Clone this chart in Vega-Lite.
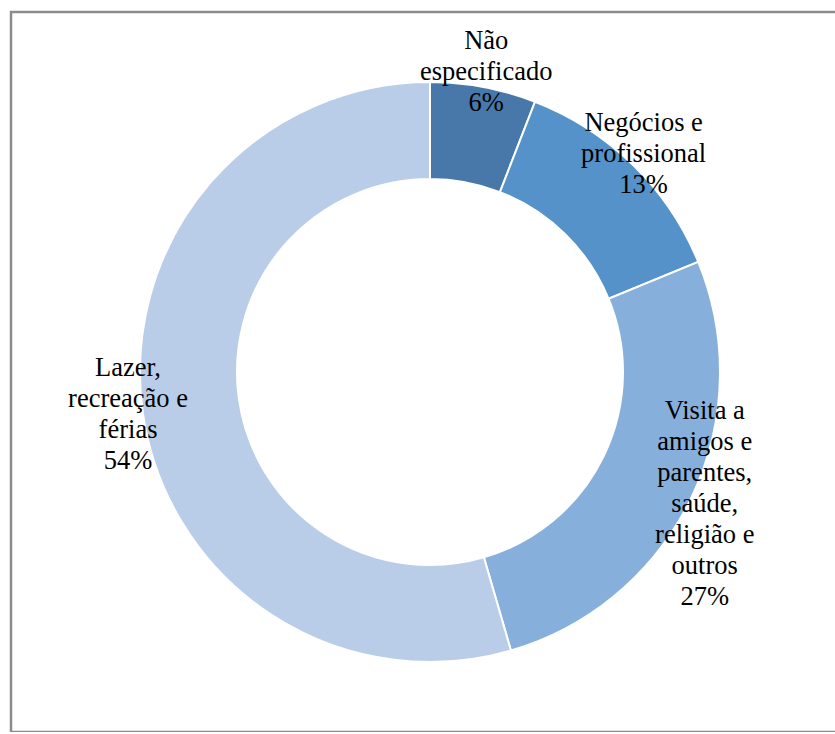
{
  "$schema": "https://vega.github.io/schema/vega-lite/v6.json",
  "autosize": {"type": "none"},
  "padding": {"left": 11, "top": 12, "right": 0, "bottom": 0},
  "width": 838,
  "height": 720,
  "background": "white",
  "config": {"view": {"stroke": null}},
  "data": {
    "values": [
      {"cat": "Não especificado", "ord": 1, "value": 5.9, "label": "Não\nespecificado\n6%"},
      {"cat": "Negócios e profissional", "ord": 2, "value": 12.9, "label": "Negócios e\nprofissional\n13%"},
      {"cat": "Visita a amigos e parentes, saúde, religião e outros", "ord": 3, "value": 26.7, "label": "Visita a\namigos e\nparentes,\nsaúde,\nreligião e\noutros\n27%"},
      {"cat": "Lazer, recreação e férias", "ord": 4, "value": 54.5, "label": "Lazer,\nrecreação e\nférias\n54%"}
    ]
  },
  "layer": [
    {
      "data": {"values": [{"frame": 1}]},
      "mark": {"type": "rect", "fill": null, "stroke": "#8c8c8c", "strokeWidth": 2.5}
    },
    {
      "mark": {"type": "arc", "outerRadius": 290, "innerRadius": 193, "stroke": "white", "strokeWidth": 2},
      "encoding": {
        "theta": {"field": "value", "type": "quantitative", "stack": true},
        "order": {"field": "ord", "type": "quantitative"},
        "color": {
          "field": "cat", "type": "nominal", "legend": null,
          "scale": {
            "domain": ["Não especificado", "Negócios e profissional", "Visita a amigos e parentes, saúde, religião e outros", "Lazer, recreação e férias"],
            "range": ["#4778a9", "#5592c9", "#87afdc", "#b9cde8"]
          }
        }
      }
    },
    {
      "mark": {"type": "text", "radius": 305, "font": "Liberation Serif", "fontSize": 26.5, "lineHeight": 31, "lineBreak": "\n", "align": "center", "baseline": "middle", "color": "black", "dy": {"expr": "-15.5 * (length(split(datum.label, '\\n')) - 1)"}},
      "encoding": {
        "theta": {"field": "value", "type": "quantitative", "stack": true},
        "order": {"field": "ord", "type": "quantitative"},
        "text": {"field": "label", "type": "nominal"}
      }
    }
  ]
}
